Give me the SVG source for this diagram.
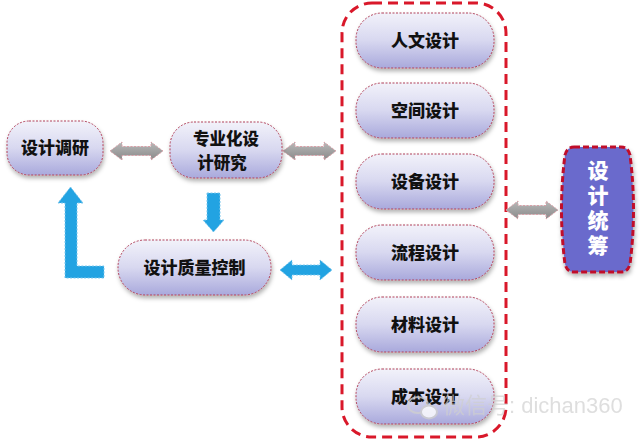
<svg xmlns="http://www.w3.org/2000/svg" width="640" height="440" viewBox="0 0 640 440">
<defs>
<linearGradient id="ng" x1="0" y1="0" x2="0" y2="1">
<stop offset="0" stop-color="#f2f2fa"/>
<stop offset="0.5" stop-color="#d8d8f0"/>
<stop offset="1" stop-color="#a9a9dc"/>
</linearGradient>
<linearGradient id="gg" x1="0" y1="0" x2="0" y2="1">
<stop offset="0" stop-color="#b8b8b8"/>
<stop offset="1" stop-color="#8a8a8a"/>
</linearGradient>
<filter id="sh" x="-10%" y="-10%" width="130%" height="140%">
<feDropShadow dx="1" dy="3" stdDeviation="2" flood-color="#000" flood-opacity="0.3"/>
</filter>
</defs>
<style>
.node{fill:url(#ng);stroke:#b0405a;stroke-width:1;stroke-dasharray:2 1.5;filter:url(#sh)}
.t{font-family:"Noto Sans CJK SC","Noto Sans CJK JP",sans-serif;font-weight:900;font-size:17px;fill:#111;text-anchor:middle}
.tw{font-family:"Noto Sans CJK SC","Noto Sans CJK JP",sans-serif;font-weight:900;font-size:21px;fill:#fff;text-anchor:middle}
.ga{fill:url(#gg);stroke:#d9a0a8;stroke-width:1;stroke-dasharray:2 1.5}
.ba{fill:#22a3e2;stroke:#7cc8ee;stroke-width:1;stroke-dasharray:2 1.5}
.cont{fill:none;stroke:#d9182a;stroke-width:3;stroke-dasharray:10 6}
.wm{font-family:"Liberation Sans","Noto Sans CJK SC",sans-serif;font-size:22px;fill:#cfcfcf;fill-opacity:0.85}
</style>
<rect width="640" height="440" fill="#fff"/>

<rect class="cont" x="342" y="3" width="164" height="434" rx="30" ry="30"/>

<g id="connectors">
<polygon class="ga" points="110,151 122,142 122,146.5 151,146.5 151,142 163,151 151,160 151,155.5 122,155.5 122,160"/>
<polygon class="ga" points="283,151 295,142 295,146.5 324,146.5 324,142 336,151 324,160 324,155.5 295,155.5 295,160"/>
<polygon class="ga" points="506,210 518,201 518,205.5 546,205.5 546,201 558,210 546,219 546,214.5 518,214.5 518,219"/>
<polygon class="ba" points="280,270 292,260 292,265 320,265 320,260 332,270 320,280 320,275 292,275 292,280"/>
<polygon class="ba" points="207,193 220,193 220,220 224,220 213.5,232 203,220 207,220"/>
<polygon class="ba" points="65,278 65,203 58,203 70.5,187 83,203 77,203 77,266 104,266 104,278"/>
</g>

<g id="n1"><rect class="node" x="7" y="121" width="96" height="54" rx="22"/><text class="t" x="55" y="154">设计调研</text></g>
<g id="n2"><rect class="node" x="170" y="122" width="112" height="56" rx="24"/><text class="t" style="font-size:16.5px" x="226" y="145">专业化设<tspan x="222" y="169">计研究</tspan></text></g>
<g id="n3"><rect class="node" x="118" y="240" width="153" height="55" rx="27"/><text class="t" x="194.5" y="274">设计质量控制</text></g>

<g id="r1"><rect class="node" x="356" y="13" width="138" height="55" rx="26"/><text class="t" x="425" y="47">人文设计</text></g>
<g id="r2"><rect class="node" x="356" y="83" width="138" height="55" rx="26"/><text class="t" x="425" y="117">空间设计</text></g>
<g id="r3"><rect class="node" x="356" y="154" width="138" height="55" rx="26"/><text class="t" x="425" y="188">设备设计</text></g>
<g id="r4"><rect class="node" x="356" y="225" width="138" height="55" rx="26"/><text class="t" x="425" y="259">流程设计</text></g>
<g id="r5"><rect class="node" x="356" y="297" width="138" height="55" rx="26"/><text class="t" x="425" y="331">材料设计</text></g>
<g id="r6"><rect class="node" x="356" y="369" width="138" height="55" rx="26"/><text class="t" x="425" y="403">成本设计</text></g>

<g id="n4">
<path d="M574,147 L621,147 Q628,147 630,155 Q637,210 630,264 Q628,272 621,272 L574,272 Q567,272 565,264 Q558,210 565,155 Q567,147 574,147 Z" fill="#6b6bcc" stroke="#c0102a" stroke-width="3" stroke-dasharray="6 3" filter="url(#sh)"/>
<text class="tw" x="598" y="210" writing-mode="tb" letter-spacing="4">设计统筹</text>
</g>

<g id="watermark" opacity="0.8">
<ellipse cx="418" cy="405" rx="10" ry="8" fill="none" stroke="#cfcfcf" stroke-width="2"/>
<ellipse cx="429" cy="412" rx="8" ry="6.5" fill="#fff" stroke="#cfcfcf" stroke-width="2"/>
<text class="wm" x="443" y="413">微信号: dichan360</text>
</g>
</svg>
